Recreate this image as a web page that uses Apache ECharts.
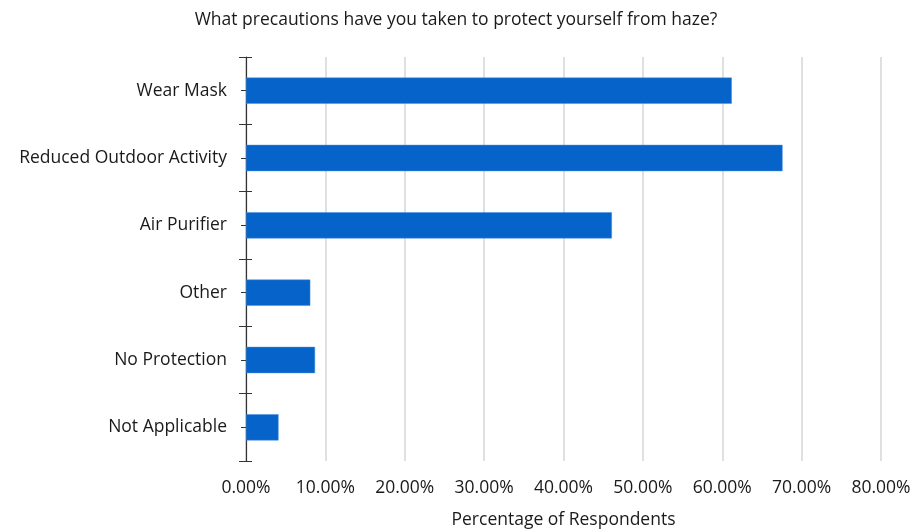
<!DOCTYPE html>
<html>
<head>
<meta charset="utf-8">
<script src="https://cdn.jsdelivr.net/npm/echarts@6/dist/echarts.min.js"></script>
<style>
  html, body { margin: 0; padding: 0; background: #fff; }
  #chart { width: 912px; height: 532px; }
</style>
</head>
<body>
<div id="chart"></div>
<script>
  // data
  const categories = ['Wear Mask', 'Reduced Outdoor Activity', 'Air Purifier', 'Other', 'No Protection', 'Not Applicable'];
  const percentValues = [61.2, 67.6, 46.1, 8.1, 8.7, 4.1];
  const xTicks = [0, 10, 20, 30, 40, 50, 60, 70, 80];

  const font = 'Open Sans';
  const fs = 17.5;
  const txt = '#1a1a1a';

  // category axis base, ticks cross the line so we stack a few copies
  const catAxis = (extra) => Object.assign({
    type: 'category',
    data: categories,
    inverse: true,
    position: 'left',
    axisLine: { show: false },
    axisLabel: { show: false },
    splitLine: { show: false },
  }, extra);

  const chart = echarts.init(document.getElementById('chart'));
  chart.setOption({
    animation: false,
    title: {
      text: 'What precautions have you taken to protect yourself from haze?',
      left: 'center',
      top: 6,
      textStyle: { fontFamily: font, fontSize: fs, fontWeight: 'normal', color: txt },
    },
    grid: { left: 246, right: 31, top: 57, bottom: 71, outerBoundsMode: 'none' },
    xAxis: {
      type: 'value',
      min: xTicks[0],
      max: xTicks[xTicks.length - 1],
      interval: 10,
      name: 'Percentage of Respondents',
      nameLocation: 'middle',
      nameGap: 50,
      nameTextStyle: { fontFamily: font, fontSize: fs, color: txt },
      axisLine: { show: false },
      axisTick: { show: false },
      axisLabel: {
        fontFamily: font, fontSize: fs, color: txt, margin: 18,
        formatter: (v) => v.toFixed(2) + '%',
      },
      splitLine: { show: true, lineStyle: { color: '#d6d6d6', width: 1.5 } },
    },
    yAxis: [
      catAxis({
        axisLine: { show: true, lineStyle: { color: '#333', width: 1.2 } },
        axisTick: { show: true, length: 7, lineStyle: { color: '#333' } },
        axisLabel: { show: true, fontFamily: font, fontSize: fs, color: txt, margin: 19 },
      }),
      catAxis({ axisTick: { show: true, inside: true, length: 6, lineStyle: { color: '#333' } } }),
      catAxis({ axisTick: { show: true, alignWithLabel: true, length: 5, lineStyle: { color: '#333' } } }),
      catAxis({ axisTick: { show: true, alignWithLabel: true, inside: true, length: 5, lineStyle: { color: '#333' } } }),
    ],
    series: [
      {
        type: 'bar',
        data: percentValues,
        barWidth: '39%',
        itemStyle: { color: '#0563C9', borderColor: '#4a8fe0', borderWidth: 0.5 },
      },
    ],
  });
</script>
</body>
</html>
